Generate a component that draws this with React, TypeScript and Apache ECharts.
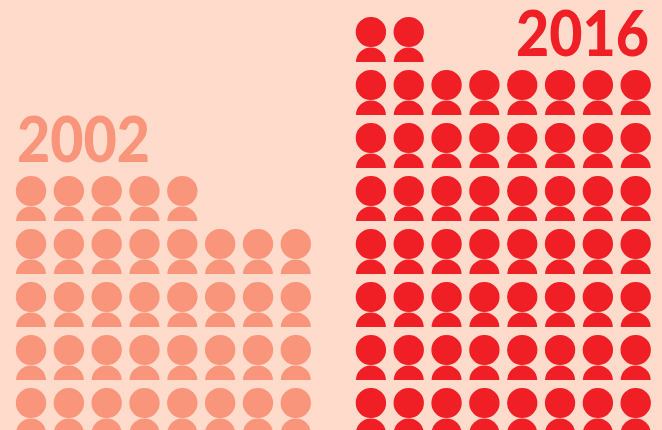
import React, { useEffect, useRef } from "react";
import * as echarts from "echarts";

const years = ["2002", "2016"];
// People per row, counted from the bottom row up
const rows2002 = [8, 8, 8, 8, 5];
const rows2016 = [8, 8, 8, 8, 8, 8, 8, 2];

const person = "path://M15 0A15 15 0 1 1 15 30A15 15 0 1 1 15 0ZM0 45A15 14.5 0 0 1 30 45Z";
const background = "#FFDBCC";
const colors = ["#F8957A", "#F01F26"];

const points = (rows: number[]) =>
  rows.flatMap((count, row) => Array.from({ length: count }, (_, col) => [col + 0.5, row]));

export default function App() {
  const ref = useRef<HTMLDivElement>(null);
  useEffect(() => {
    document.body.style.margin = "0";
    document.body.style.overflow = "hidden";
    const chart = echarts.init(ref.current!, null, { renderer: "svg" });
    const grid = (left: number) => ({ left, top: 39.5, width: 302.6, height: 371 });
    const x = (gridIndex: number) => ({ type: "value" as const, gridIndex, min: 0, max: 8, show: false });
    const y = (gridIndex: number) => ({ type: "value" as const, gridIndex, min: 0, max: 7, show: false });
    const series = (i: number, rows: number[]) => ({
      type: "scatter" as const,
      name: years[i],
      xAxisIndex: i,
      yAxisIndex: i,
      symbol: person,
      symbolSize: [30, 45],
      clip: false,
      silent: true,
      itemStyle: { color: colors[i], opacity: 1 },
      data: points(rows),
    });
    const label = (i: number, left: number, middle: number) => ({
      type: "text" as const,
      x: left,
      y: middle,
      scaleX: 0.925,
      silent: true,
      style: {
        text: years[i],
        fill: colors[i],
        fontFamily: "Lato",
        fontWeight: 900,
        fontSize: 62,
        lineHeight: 50,
        align: "left",
        verticalAlign: "middle",
      },
    });
    chart.setOption({
      animation: false,
      backgroundColor: background,
      grid: [grid(12.1), grid(352)],
      xAxis: [x(0), x(1)],
      yAxis: [y(0), y(1)],
      series: [series(0, rows2002), series(1, rows2016)],
      graphic: [label(0, 17, 138), label(1, 516, 32)],
    });
    return () => chart.dispose();
  }, []);
  return <div ref={ref} style={{ width: 662, height: 430 }} />;
}
